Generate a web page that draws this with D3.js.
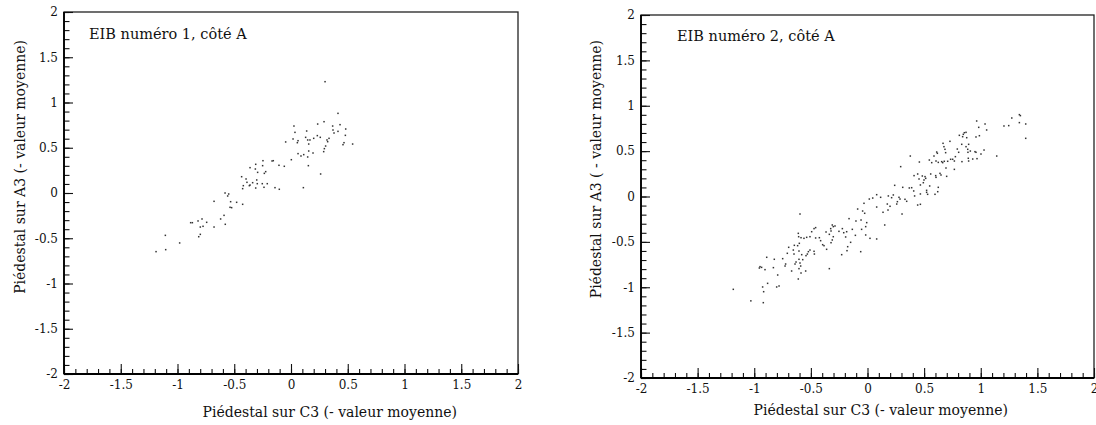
<!DOCTYPE html>
<html><head><meta charset="utf-8">
<script src="https://cdn.jsdelivr.net/npm/d3@7"></script>
<style>
body{margin:0;background:#fff}
svg{display:block}
text{font-family:"DejaVu Serif",serif;fill:#111}
</style>
</head><body>
<svg id="chart" width="1096" height="425"></svg>
<script>
// ---- Data: EIB 1, côté A (C3 pedestal, A3 pedestal, minus mean) ----
const eib1C3 = [0.414,0.291,0.235,0.026,0.367,0.432,0.035,0.138,0.370,0.414,0.482,0.379,0.129,0.232,0.258,0.200,0.147,0.167,0.335,0.317,0.323,0.479,0.018,-0.047,0.062,0.056,0.156,0.467,0.458,0.543,0.305,0.294,0.288,0.156,0.194,0.062,0.112,0.088,0.147,0.003,-0.156,-0.167,-0.247,-0.311,-0.106,-0.059,0.153,-0.361,-0.250,-0.314,-0.223,-0.235,-0.294,-0.435,-0.396,-0.302,-0.388,-0.338,-0.253,-0.297,-0.209,-0.420,-0.367,-0.361,-0.426,-0.311,-0.238,-0.141,-0.103,0.261,0.109,-0.581,-0.549,-0.558,-0.532,-0.479,-0.426,-0.678,-0.537,-0.523,-0.590,-0.620,-0.784,-0.819,-0.743,-0.884,-0.869,-0.775,-0.799,-0.678,-0.579,-0.799,-0.813,-1.107,-0.981,-1.104,-1.189,0.300];
const eib1A3 = [0.880,0.788,0.762,0.740,0.740,0.755,0.670,0.685,0.696,0.681,0.707,0.663,0.615,0.634,0.615,0.604,0.586,0.586,0.604,0.586,0.567,0.637,0.597,0.564,0.578,0.556,0.541,0.556,0.534,0.541,0.519,0.490,0.457,0.464,0.442,0.435,0.424,0.409,0.398,0.368,0.357,0.354,0.357,0.317,0.306,0.295,0.302,0.280,0.302,0.265,0.236,0.217,0.228,0.180,0.155,0.144,0.118,0.114,0.103,0.103,0.103,0.081,0.081,0.088,0.048,0.055,0.063,0.059,0.041,0.210,0.059,0.000,-0.011,-0.033,-0.096,-0.103,-0.125,-0.092,-0.158,-0.162,-0.247,-0.287,-0.287,-0.309,-0.324,-0.328,-0.328,-0.368,-0.376,-0.376,-0.346,-0.457,-0.483,-0.468,-0.552,-0.626,-0.648,1.230];

// ---- Data: EIB 2, côté A ----
const eib2C3 = [0.081,0.046,0.016,-0.031,-0.087,-0.043,-0.025,0.081,0.081,0.022,-0.016,-0.016,-0.007,-0.052,-0.057,-0.102,-0.163,-0.134,-0.184,-0.193,-0.222,-0.210,-0.252,-0.287,-0.302,-0.311,-0.322,-0.325,-0.366,-0.361,-0.337,-0.302,-0.311,-0.322,-0.384,-0.396,-0.414,-0.425,-0.458,-0.458,-0.472,-0.493,-0.508,-0.537,-0.561,-0.587,-0.611,-0.608,-0.596,-0.602,-0.617,-0.646,-0.655,-0.696,-0.708,-0.649,-0.605,-0.581,-0.522,-0.531,-0.508,-0.472,-0.469,-0.543,-0.572,-0.596,-0.590,-0.605,-0.631,-0.640,-0.670,-0.723,-0.728,-0.749,-0.823,-0.831,-0.890,-0.949,-0.935,-0.905,-0.955,-0.793,-0.605,-0.587,-0.546,-0.611,-0.337,-0.882,-0.926,-0.917,-0.802,-0.781,-1.185,-0.228,-0.181,-0.175,-0.107,-0.149,-0.060,-1.030,-0.920,
 1.341,1.350,1.274,1.397,1.341,1.247,1.205,1.397,1.141,0.964,1.038,1.052,0.982,0.870,0.855,0.846,0.840,0.811,0.876,0.958,0.988,0.728,0.832,0.893,0.667,0.611,0.675,0.684,0.690,0.793,0.805,0.870,0.885,0.887,0.908,0.949,0.958,1.002,1.029,0.378,0.587,0.617,0.546,0.567,0.605,0.625,0.655,0.664,0.678,0.708,0.734,0.752,0.767,0.776,0.834,0.890,0.893,0.929,0.967,0.458,0.293,0.693,0.767,0.443,0.411,0.455,0.484,0.508,0.499,0.514,0.493,0.467,0.558,0.602,0.605,0.640,0.649,0.699,0.549,0.625,0.620,0.596,0.522,0.522,0.531,0.467,0.390,0.369,0.408,0.416,0.311,0.240,0.228,0.184,0.213,0.116,0.278,0.287,0.331,0.346,0.264,0.258,0.175,0.199,0.181,0.137,0.443,0.467,0.305,0.152];
const eib2A3 = [0.020,-0.017,-0.028,-0.075,-0.138,-0.160,-0.185,-0.116,-0.468,-0.461,-0.424,-0.332,-0.288,-0.362,-0.259,-0.270,-0.244,-0.362,-0.388,-0.446,-0.354,-0.399,-0.384,-0.325,-0.332,-0.314,-0.380,-0.354,-0.391,-0.582,-0.417,-0.443,-0.479,-0.509,-0.542,-0.531,-0.487,-0.454,-0.457,-0.343,-0.354,-0.388,-0.443,-0.450,-0.461,-0.454,-0.406,-0.443,-0.193,-0.516,-0.542,-0.538,-0.590,-0.560,-0.626,-0.634,-0.601,-0.641,-0.608,-0.634,-0.590,-0.604,-0.634,-0.652,-0.696,-0.733,-0.766,-0.692,-0.722,-0.744,-0.821,-0.744,-0.766,-0.685,-0.692,-0.784,-0.670,-0.773,-0.781,-0.806,-0.788,-0.865,-0.795,-0.843,-0.821,-0.909,-0.795,-0.957,-0.997,-1.049,-0.997,-0.986,-1.023,-0.641,-0.597,-0.553,-0.428,-0.505,-0.608,-1.150,-1.170,
 0.902,0.891,0.865,0.799,0.814,0.781,0.777,0.641,0.446,0.832,0.799,0.733,0.762,0.707,0.703,0.685,0.659,0.674,0.648,0.656,0.670,0.608,0.575,0.575,0.586,0.490,0.549,0.520,0.483,0.523,0.487,0.549,0.520,0.487,0.501,0.494,0.487,0.468,0.512,0.446,0.446,0.476,0.402,0.373,0.391,0.376,0.384,0.373,0.388,0.388,0.410,0.410,0.391,0.439,0.384,0.421,0.391,0.413,0.417,0.380,0.329,0.314,0.299,0.248,0.230,0.193,0.226,0.219,0.182,0.200,0.152,0.127,0.248,0.230,0.211,0.255,0.237,0.222,0.116,0.101,0.053,0.024,0.068,0.046,0.024,0.028,0.097,0.094,0.061,0.006,0.101,0.123,0.017,0.006,-0.013,-0.009,-0.009,-0.028,-0.031,-0.053,-0.057,-0.083,-0.083,-0.108,-0.149,-0.174,-0.094,-0.086,-0.193,-0.314];

// ---- Axis ticks and texts ----
const majorTicks = [-2,-1.5,-1,-0.5,0,0.5,1,1.5,2];
const minorTicks = d3.range(-20,21).map(d => d/10);
const panelTitles = ["EIB numéro 1, côté A", "EIB numéro 2, côté A"];
const xTitles = ["Piédestal sur C3 (- valeur moyenne)", "Piédestal sur C3 (- valeur moyenne)"];
const yTitles = ["Piédestal sur A3 (- valeur moyenne)", "Piédestal sur A3 ( - valeur moyenne)"];

const FONT = '"DejaVu Serif", serif';
const svg = d3.select("#chart");

const panels = [
  {x0:64, x1:518, y0:12, y1:374, xs:eib1C3, ys:eib1A3, i:0,
   titleX:89, titleY:39, yTitleX:25, yTitleEnd:40, xTitleEnd:457, xTitleY:417},
  {x0:641, x1:1094, y0:15, y1:378, xs:eib2C3, ys:eib2A3, i:1,
   titleX:677, titleY:41, yTitleX:601, yTitleEnd:40, xTitleEnd:1008, xTitleY:415}
];

panels.forEach(p => {
  const x = d3.scaleLinear().domain([-2,2]).range([p.x0, p.x1]);
  const y = d3.scaleLinear().domain([-2,2]).range([p.y1, p.y0]);
  const g = svg.append("g");

  // frame
  g.append("rect").attr("x", p.x0).attr("y", p.y0)
    .attr("width", p.x1 - p.x0).attr("height", p.y1 - p.y0)
    .attr("fill", "none").attr("stroke", "#222").attr("stroke-width", 1.3);

  // minor ticks
  const xMinor = g.append("g").attr("transform", `translate(0,${p.y1})`)
    .call(d3.axisBottom(x).tickValues(minorTicks).tickSize(-5).tickFormat(""));
  const yMinor = g.append("g").attr("transform", `translate(${p.x0},0)`)
    .call(d3.axisLeft(y).tickValues(minorTicks).tickSize(-5.5).tickFormat(""));
  // major ticks
  const xMajor = g.append("g").attr("transform", `translate(0,${p.y1})`)
    .call(d3.axisBottom(x).tickValues(majorTicks).tickSize(-10).tickPadding(6).tickFormat(d => String(d)));
  const yMajor = g.append("g").attr("transform", `translate(${p.x0},0)`)
    .call(d3.axisLeft(y).tickValues(majorTicks).tickSize(-9).tickPadding(6).tickFormat(d => String(d)));
  [xMinor, yMinor, xMajor, yMajor].forEach(a => {
    a.select(".domain").remove();
    a.selectAll("line").attr("stroke", "#111").attr("stroke-width", 1.1);
    a.selectAll("text").attr("font-family", FONT).attr("font-size", 12).attr("fill", "#111");
  });

  // axis lines
  g.append("line").attr("x1", p.x0).attr("x2", p.x1).attr("y1", p.y1).attr("y2", p.y1)
    .attr("stroke", "#000").attr("stroke-width", 1.8);
  g.append("line").attr("x1", p.x0).attr("x2", p.x0).attr("y1", p.y0).attr("y2", p.y1)
    .attr("stroke", "#000").attr("stroke-width", 1.8);

  // points
  const pts = p.xs.map((v, k) => [v, p.ys[k]]);
  g.append("g").selectAll("rect").data(pts).join("rect")
    .attr("x", d => x(d[0]) - 0.75).attr("y", d => y(d[1]) - 0.75)
    .attr("width", 1.5).attr("height", 1.5).attr("fill", "#333");

  // texts
  g.append("text").attr("x", p.titleX).attr("y", p.titleY).attr("font-family", FONT)
    .attr("font-size", 14.5).text(panelTitles[p.i]);
  g.append("text").attr("x", p.xTitleEnd).attr("y", p.xTitleY).attr("font-family", FONT)
    .attr("text-anchor", "end").attr("font-size", 14).text(xTitles[p.i]);
  g.append("text").attr("transform", `translate(${p.yTitleX},${p.yTitleEnd}) rotate(-90)`)
    .attr("font-family", FONT)
    .attr("text-anchor", "end").attr("font-size", 14).text(yTitles[p.i]);
});
</script>
</body></html>
